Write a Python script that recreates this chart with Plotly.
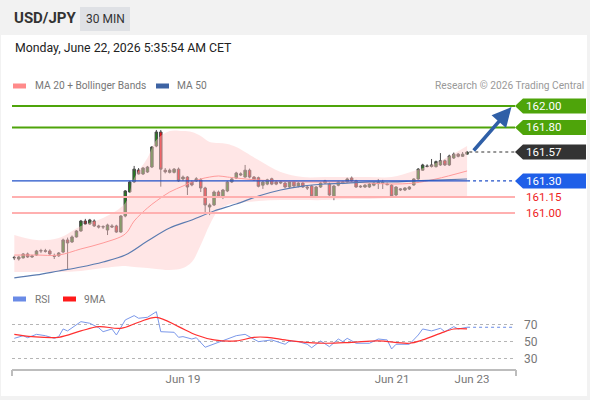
import plotly.graph_objects as go

W, H = 590, 400
ML, MR = 12, 75
PW = W - ML - MR


def px_x(x):
    return (x - ML) / PW


def px_y(y):
    return 1 - y / H


# --- 30 min candles, USD/JPY ---
opens = [160.580, 160.570, 160.580, 160.617, 160.589, 160.607, 160.645, 160.648, 160.645, 160.600,
         160.600, 160.635, 160.748, 160.729, 160.776, 160.832, 160.925, 160.897, 160.925, 160.879,
         160.869, 160.841, 160.879, 160.879, 160.822, 160.972, 161.196, 161.290, 161.402, 161.365,
         161.383, 161.430, 161.626, 161.757, 161.400, 161.380, 161.380, 161.410, 161.318, 161.336,
         161.290, 161.300, 161.310, 161.234, 161.056, 161.075, 161.196, 161.150, 161.206, 161.290,
         161.327, 161.355, 161.336, 161.400, 161.336, 161.330, 161.260, 161.270, 161.320, 161.290,
         161.280, 161.280, 161.243, 161.290, 161.252, 161.280, 161.243, 161.252, 161.150, 161.243,
         161.280, 161.270, 161.159, 161.260, 161.280, 161.290, 161.327, 161.300, 161.243, 161.243,
         161.243, 161.260, 161.275, 161.280, 161.270, 161.260, 161.168, 161.215, 161.215, 161.224,
         161.262, 161.318, 161.400, 161.440, 161.435, 161.433, 161.449, 161.489, 161.449, 161.514,
         161.550, 161.530, 161.550]
highs = [160.600, 160.600, 160.625, 160.630, 160.610, 160.655, 160.665, 160.665, 160.660, 160.620,
         160.635, 160.760, 160.770, 160.790, 160.840, 160.935, 160.945, 160.945, 160.940, 160.890,
         160.885, 160.900, 160.895, 160.890, 160.980, 161.215, 161.300, 161.440, 161.420, 161.430,
         161.440, 161.625, 161.776, 161.776, 161.420, 161.415, 161.420, 161.425, 161.350, 161.345,
         161.305, 161.335, 161.325, 161.245, 161.090, 161.210, 161.210, 161.225, 161.300, 161.330,
         161.385, 161.380, 161.449, 161.415, 161.345, 161.340, 161.300, 161.320, 161.330, 161.300,
         161.300, 161.290, 161.300, 161.300, 161.290, 161.290, 161.255, 161.262, 161.252, 161.290,
         161.310, 161.285, 161.262, 161.300, 161.300, 161.330, 161.340, 161.310, 161.260, 161.270,
         161.280, 161.290, 161.318, 161.310, 161.285, 161.270, 161.250, 161.230, 161.240, 161.250,
         161.325, 161.420, 161.460, 161.455, 161.505, 161.490, 161.560, 161.500, 161.545, 161.565,
         161.560, 161.570, 161.580]
lows = [160.560, 160.555, 160.575, 160.580, 160.580, 160.600, 160.625, 160.630, 160.610, 160.570,
        160.590, 160.625, 160.477, 160.720, 160.770, 160.825, 160.890, 160.890, 160.870, 160.855,
        160.850, 160.794, 160.860, 160.815, 160.815, 160.960, 161.190, 161.280, 161.360, 161.355,
        161.375, 161.420, 161.615, 161.246, 161.370, 161.370, 161.370, 161.290, 161.300, 161.168,
        161.250, 161.290, 161.196, 161.000, 160.980, 161.065, 161.150, 161.130, 161.195, 161.280,
        161.318, 161.345, 161.330, 161.325, 161.300, 161.240, 161.225, 161.260, 161.260, 161.260,
        161.270, 161.230, 161.235, 161.245, 161.240, 161.235, 161.215, 161.150, 161.140, 161.235,
        161.270, 161.160, 161.120, 161.250, 161.270, 161.280, 161.290, 161.235, 161.235, 161.235,
        161.235, 161.250, 161.224, 161.224, 161.260, 161.150, 161.160, 161.205, 161.205, 161.215,
        161.255, 161.310, 161.395, 161.425, 161.425, 161.425, 161.440, 161.440, 161.440, 161.505,
        161.520, 161.525, 161.545]
closes = [160.585, 160.589, 160.617, 160.589, 160.598, 160.645, 160.648, 160.642, 160.617, 160.595,
          160.626, 160.748, 160.720, 160.776, 160.832, 160.925, 160.897, 160.935, 160.879, 160.869,
          160.872, 160.888, 160.870, 160.822, 160.972, 161.206, 161.290, 161.410, 161.365, 161.420,
          161.430, 161.617, 161.757, 161.410, 161.385, 161.400, 161.410, 161.300, 161.336, 161.243,
          161.262, 161.320, 161.234, 161.075, 161.075, 161.196, 161.159, 161.215, 161.290, 161.318,
          161.374, 161.365, 161.400, 161.336, 161.310, 161.250, 161.290, 161.310, 161.270, 161.270,
          161.290, 161.243, 161.290, 161.252, 161.280, 161.243, 161.234, 161.159, 161.243, 161.280,
          161.300, 161.168, 161.252, 161.290, 161.290, 161.318, 161.300, 161.243, 161.250, 161.260,
          161.270, 161.280, 161.285, 161.285, 161.265, 161.159, 161.243, 161.224, 161.234, 161.243,
          161.318, 161.410, 161.449, 161.435, 161.449, 161.480, 161.489, 161.449, 161.533, 161.550,
          161.530, 161.550, 161.570]
candle_idx = list(range(len(closes)))

# bands / moving averages at a few candles
band_idx = [0, 5, 10, 15, 20, 25, 27, 30, 32, 35, 38, 40, 42, 44, 46, 48, 50, 55, 60, 65, 70, 75, 80, 85, 90, 95, 102]
bb_upper = [160.794, 160.748, 160.766, 160.879, 160.953, 161.093, 161.327, 161.514, 161.682, 161.766, 161.766,
            161.757, 161.720, 161.664, 161.654, 161.645, 161.617, 161.495, 161.383, 161.336, 161.336, 161.336,
            161.336, 161.336, 161.393, 161.467, 161.626]
bb_lower = [160.449, 160.449, 160.449, 160.458, 160.486, 160.505, 160.495, 160.486, 160.476, 160.467, 160.486,
            160.542, 160.701, 160.888, 161.028, 161.075, 161.093, 161.112, 161.121, 161.121, 161.121, 161.131,
            161.131, 161.140, 161.140, 161.150, 161.150]
ma20 = [160.607, 160.607, 160.607, 160.664, 160.720, 160.804, 160.925, 161.047, 161.112, 161.196, 161.252,
        161.290, 161.318, 161.336, 161.346, 161.336, 161.327, 161.308, 161.299, 161.290, 161.290, 161.290,
        161.280, 161.271, 161.280, 161.318, 161.393]
ma50_idx = [0, 5, 10, 15, 20, 25, 30, 35, 40, 45, 50, 55, 60, 65, 70, 75, 80, 85, 90, 95, 102]
ma50 = [160.393, 160.421, 160.458, 160.495, 160.542, 160.607, 160.738, 160.860, 160.935, 161.019, 161.084,
        161.159, 161.215, 161.252, 161.271, 161.280, 161.290, 161.290, 161.299, 161.308, 161.318]

# RSI pane
rsi_idx = [0, 2, 3, 5, 7, 9, 10, 11, 12, 15, 17, 19, 20, 22, 23, 25, 27, 28, 30, 32, 33, 36, 37, 38, 40, 41,
           43, 46, 49, 50, 52, 54, 55, 58, 61, 62, 64, 66, 67, 69, 71, 73, 74, 75, 77, 80, 82, 84, 85, 86,
           89, 91, 92, 94, 96, 97, 99, 100, 102]
rsi = [54.3, 57.4, 55.0, 59.0, 57.4, 54.3, 56.3, 65.3, 63.0, 73.9, 72.0, 66.8, 62.1, 65.3, 58.2, 75.9, 81.0,
       77.9, 79.0, 85.6, 62.1, 61.4, 55.5, 56.3, 53.5, 55.0, 43.8, 49.6, 55.0, 57.4, 59.0, 53.5, 50.4, 52.4,
       47.3, 51.2, 50.4, 47.3, 43.3, 51.2, 44.5, 53.5, 50.4, 54.3, 48.5, 48.5, 53.5, 52.4, 41.8, 47.3, 47.3,
       58.2, 65.3, 63.0, 66.1, 62.1, 68.0, 65.3, 67.3]
ma9_idx = [0, 4, 10, 15, 19, 24, 28, 32, 37, 41, 45, 50, 54, 57, 61, 64, 70, 76, 82, 89, 92, 96, 99, 102]
rsi_ma9 = [59.0, 56.3, 55.5, 63.0, 68.0, 66.1, 73.2, 79.0, 68.0, 58.2, 52.4, 51.2, 55.5, 55.5, 52.4, 50.4,
           48.5, 49.6, 51.2, 48.5, 52.4, 60.2, 65.3, 65.3]
rsi_levels = [30, 50, 70]

date_ticks = [38.0, 85.1, 103.1]
date_labels = ["Jun 19", "Jun 21", "Jun 23"]

resistances = [162.00, 161.80]
pivot = 161.30
supports = [161.15, 161.00]
last_price = closes[-1]

X_RANGE = [-0.52, 112.8]
Y_RANGE = [160.355, 162.103]
RSI_RANGE = [17.06, 87.6]

GREEN = "#4ea40a"
BLUE = "#1f5fe8"
DARK = "#333333"
RED = "#ee1c1c"
FONT = "Roboto"

fig = go.Figure()

# Bollinger band area
fig.add_trace(go.Scatter(x=band_idx, y=bb_upper, mode="lines", line=dict(width=0, shape="spline"),
                         hoverinfo="skip", showlegend=False))
fig.add_trace(go.Scatter(x=band_idx, y=bb_lower, mode="lines", line=dict(width=0, shape="spline"),
                         fill="tonexty", fillcolor="rgba(255,200,200,0.45)", hoverinfo="skip", showlegend=False))
fig.add_trace(go.Scatter(x=band_idx, y=ma20, mode="lines", line=dict(color="#ff9a9a", width=1, shape="spline"),
                         showlegend=False))
fig.add_trace(go.Scatter(x=ma50_idx, y=ma50, mode="lines", line=dict(color="#5b7bb0", width=1.2, shape="spline"),
                         showlegend=False))

fig.add_trace(go.Candlestick(
    x=candle_idx, open=opens, high=highs, low=lows, close=closes,
    increasing=dict(line=dict(color="#4a4a4a", width=1), fillcolor="#22801a"),
    decreasing=dict(line=dict(color="#4a4a4a", width=1), fillcolor="#e8141c"),
    whiskerwidth=0, showlegend=False,
))

# RSI
fig.add_trace(go.Scatter(x=rsi_idx, y=rsi, mode="lines", line=dict(color="#7b98ea", width=1),
                         xaxis="x2", yaxis="y2", showlegend=False))
fig.add_trace(go.Scatter(x=ma9_idx, y=rsi_ma9, mode="lines", line=dict(color="#ff3030", width=1.2, shape="spline"),
                         xaxis="x2", yaxis="y2", showlegend=False))
fig.add_trace(go.Scatter(x=[rsi_idx[-1], X_RANGE[1]], y=[rsi[-1], rsi[-1]], mode="lines",
                         line=dict(color="#6a8be6", width=1.2, dash="dot"),
                         xaxis="x2", yaxis="y2", showlegend=False))

shapes = []
# card and header
shapes.append(dict(type="rect", xref="paper", yref="paper", x0=px_x(1), x1=px_x(587), y0=px_y(35), y1=px_y(396),
                   fillcolor="white", line=dict(width=0), layer="below"))
shapes.append(dict(type="rect", xref="paper", yref="paper", x0=px_x(80), x1=px_x(130), y0=px_y(7), y1=px_y(31),
                   fillcolor="#dfe1e5", line=dict(width=0), layer="below"))

# level lines
for lv in resistances:
    shapes.append(dict(type="line", xref="paper", yref="y", x0=0, x1=1, y0=lv, y1=lv,
                       line=dict(color=GREEN, width=2)))
for lv in supports:
    shapes.append(dict(type="line", xref="paper", yref="y", x0=0, x1=1, y0=lv, y1=lv,
                       line=dict(color="#ffb0b0", width=2)))
shapes.append(dict(type="line", xref="x", yref="y", x0=X_RANGE[0], x1=candle_idx[-1], y0=pivot, y1=pivot,
                   line=dict(color="#2050c8", width=1.2)))
shapes.append(dict(type="line", xref="x", yref="y", x0=candle_idx[-1], x1=X_RANGE[1], y0=pivot, y1=pivot,
                   line=dict(color="#2050c8", width=1.2, dash="dot")))
shapes.append(dict(type="line", xref="x", yref="y", x0=candle_idx[-1] + 0.5, x1=X_RANGE[1], y0=last_price,
                   y1=last_price, line=dict(color=DARK, width=1.2, dash="dot")))

# price tags on the right
px_per_unit = (282 - 95) / (Y_RANGE[1] - Y_RANGE[0])
half = 7.5 / px_per_unit
tx0, tx1, tx2 = px_x(515), px_x(523), px_x(586)
tags = [(resistances[0], GREEN), (resistances[1], GREEN), (last_price, DARK), (pivot, BLUE)]
annotations = []
for lv, col in tags:
    shapes.append(dict(type="path", xref="paper", yref="y",
                       path=f"M {tx0},{lv} L {tx1},{lv + half} L {tx2},{lv + half} L {tx2},{lv - half} "
                            f"L {tx1},{lv - half} Z",
                       fillcolor=col, line=dict(width=0)))
    annotations.append(dict(xref="paper", yref="y", x=px_x(524), y=lv, text=f"{lv:.2f}", showarrow=False,
                            xanchor="left", yanchor="middle", font=dict(color="white", size=11.5, family=FONT)))
for lv in supports:
    annotations.append(dict(xref="paper", yref="y", x=px_x(524), y=lv, text=f"{lv:.2f}", showarrow=False,
                            xanchor="left", yanchor="middle", font=dict(color=RED, size=11.5, family=FONT)))

# axis line under RSI with end ticks
shapes.append(dict(type="line", xref="paper", yref="paper", x0=px_x(12), x1=px_x(516), y0=px_y(370), y1=px_y(370),
                   line=dict(color="#bdbdbd", width=2)))
for xe in (12, 516):
    shapes.append(dict(type="line", xref="paper", yref="paper", x0=px_x(xe), x1=px_x(xe), y0=px_y(370),
                       y1=px_y(376), line=dict(color="#bdbdbd", width=2)))

# legend swatches
for x0, x1, y, col in [(13, 26, 86, "#ff8a8a"), (156, 169, 86, "#3d63a3"), (13, 26, 299, "#6a8be6"),
                       (63, 76, 299, "#ff1a1a")]:
    shapes.append(dict(type="rect", xref="paper", yref="paper", x0=px_x(x0), x1=px_x(x1), y0=px_y(y + 2.5),
                       y1=px_y(y - 2.5), fillcolor=col, line=dict(width=0)))

texts = [
    (12, 18, "<b>USD/JPY</b>", 15, "#333333", "left"),
    (105, 19, "30 MIN", 12, "#333333", "center"),
    (13, 48, "Monday, June 22, 2026 5:35:54 AM CET", 12.3, "#222222", "left"),
    (33, 86, "MA 20 + Bollinger Bands", 10.2, "#777777", "left"),
    (175, 86, "MA 50", 10.2, "#777777", "left"),
    (586, 86, "Research © 2026 Trading Central", 10.2, "#999999", "right"),
    (33, 299, "RSI", 10.2, "#777777", "left"),
    (82, 299, "9MA", 10.2, "#777777", "left"),
]
for x, y, t, s, c, anc in texts:
    annotations.append(dict(xref="paper", yref="paper", x=px_x(x), y=px_y(y), text=t, showarrow=False,
                            xanchor=anc, yanchor="middle", font=dict(size=s, color=c, family=FONT)))

# forecast arrow from last close towards the first target
annotations.append(dict(xref="x", yref="y", axref="x", ayref="y", x=candle_idx[-1] + 10, y=resistances[0] - 0.01,
                        ax=candle_idx[-1] + 1.2, ay=last_price, text="", showarrow=True, arrowhead=2,
                        arrowsize=1.1, arrowwidth=3.5, arrowcolor="#2f5fa7"))

fig.update_layout(
    width=W, height=H,
    margin=dict(l=ML, r=MR, t=0, b=0),
    paper_bgcolor="#f2f2f2",
    plot_bgcolor="rgba(0,0,0,0)",
    font=dict(family=FONT, color="#777777"),
    showlegend=False,
    boxgap=0.2,
    shapes=shapes,
    annotations=annotations,
    xaxis=dict(domain=[0, 1], range=X_RANGE, visible=False, anchor="y", rangeslider=dict(visible=False),
               fixedrange=True),
    yaxis=dict(domain=[1 - 282 / H, 1 - 95 / H], range=Y_RANGE, visible=False, anchor="x"),
    xaxis2=dict(domain=[0, 1], range=X_RANGE, anchor="y2", tickvals=date_ticks, ticktext=date_labels,
                showgrid=False, zeroline=False, showline=False, ticks="",
                tickfont=dict(size=11.5, color="#777777", family=FONT)),
    yaxis2=dict(domain=[1 - 370 / H, 1 - 310 / H], range=RSI_RANGE, anchor="x2", side="right",
                tickvals=rsi_levels, showgrid=True, gridcolor="#b5b5b5", griddash="dot", gridwidth=1,
                zeroline=False, showline=False, ticks="", ticklabelstandoff=8,
                tickfont=dict(size=12, color="#777777", family=FONT)),
)

fig.write_html("out.html", config={"displayModeBar": False},
               post_script="document.body.style.margin='0';")
